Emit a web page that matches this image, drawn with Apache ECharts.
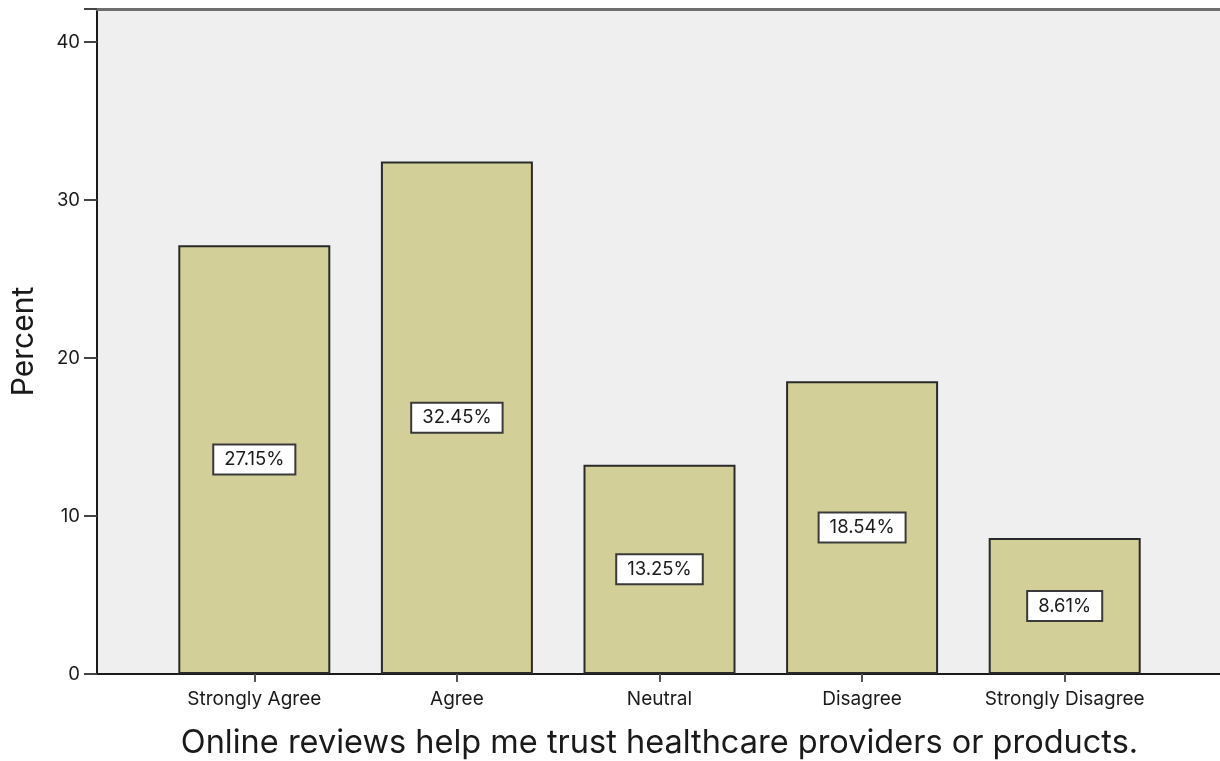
<!DOCTYPE html>
<html>
<head>
<meta charset="utf-8">
<title>Online reviews</title>
<script src="https://cdn.jsdelivr.net/npm/echarts@6/dist/echarts.min.js"></script>
<style>
  html, body { margin: 0; padding: 0; background: #fff; }
  #chart { width: 1220px; height: 761px; }
</style>
</head>
<body>
<div id="chart"></div>
<script>
  // data
  const categories = ['Strongly Agree', 'Agree', 'Neutral', 'Disagree', 'Strongly Disagree'];
  const percents = [27.15, 32.45, 13.25, 18.54, 8.61];
  const yTicks = [0, 10, 20, 30, 40];

  const font = 'Inter, "Open Sans", sans-serif';
  const chart = echarts.init(document.getElementById('chart'));

  const plotTop = 9;
  const plotBottom = 87;

  chart.setOption({
    animation: false,
    grid: [
      // background + axes frame
      { left: 97, right: 0, top: plotTop, bottom: plotBottom, outerBoundsMode: 'none', containLabel: false,
        show: true, backgroundColor: '#efefef', borderWidth: 0 },
      // bars
      { left: 153, width: 1013, top: plotTop, bottom: plotBottom, outerBoundsMode: 'none', containLabel: false }
    ],
    xAxis: [
      {
        gridIndex: 0, type: 'value', min: 0, max: 1,
        axisLine: { show: true, onZero: false, lineStyle: { color: '#1a1a1a', width: 2 } },
        axisTick: { show: false }, axisLabel: { show: false }, splitLine: { show: false }
      },
      {
        gridIndex: 0, type: 'value', position: 'top', min: 0, max: 1,
        axisLine: { show: true, onZero: false, lineStyle: { color: '#6e6e6e', width: 3 } },
        axisTick: { show: false }, axisLabel: { show: false }, splitLine: { show: false }
      },
      {
        gridIndex: 1, type: 'category', data: categories,
        axisLine: { show: false },
        axisTick: { show: true, alignWithLabel: true, length: 8, lineStyle: { color: '#555', width: 2 } },
        axisLabel: { interval: 0, margin: 16, color: '#1a1a1a', fontSize: 19, fontFamily: font },
        name: 'Online reviews help me trust healthcare providers or products.',
        nameLocation: 'middle',
        nameGap: 53,
        nameMoveOverlap: false,
        nameTextStyle: { color: '#1a1a1a', fontSize: 32.5, fontFamily: font }
      }
    ],
    yAxis: [
      {
        gridIndex: 0, type: 'value', min: 0, max: 42.1, interval: 10,
        axisLine: { show: true, lineStyle: { color: '#1a1a1a', width: 2 } },
        axisTick: { show: true, length: 13, lineStyle: { color: '#444', width: 2 } },
        axisLabel: {
          margin: 17, color: '#1a1a1a', fontSize: 18.5, fontFamily: font,
          formatter: v => (yTicks.includes(v) ? String(v) : '')
        },
        splitLine: { show: false },
        name: 'Percent',
        nameLocation: 'middle',
        nameRotate: 90,
        nameGap: 58,
        nameMoveOverlap: false,
        nameTextStyle: { color: '#1a1a1a', fontSize: 30, fontFamily: font }
      },
      {
        gridIndex: 1, type: 'value', min: 0, max: 42.1,
        show: false
      }
    ],
    series: [
      {
        type: 'bar',
        xAxisIndex: 2,
        yAxisIndex: 1,
        data: percents,
        barWidth: 152,
        itemStyle: { color: '#d3cf98', borderColor: '#2a2a2a', borderWidth: 2 },
        label: {
          show: true,
          position: 'inside',
          formatter: p => p.value.toFixed(2) + '%',
          color: '#1a1a1a',
          fontSize: 18.5,
          fontFamily: font,
          backgroundColor: '#ffffff',
          borderColor: '#3a3a3a',
          borderWidth: 2,
          padding: [5, 10, 4, 10]
        }
      }
    ]
  });
</script>
</body>
</html>
